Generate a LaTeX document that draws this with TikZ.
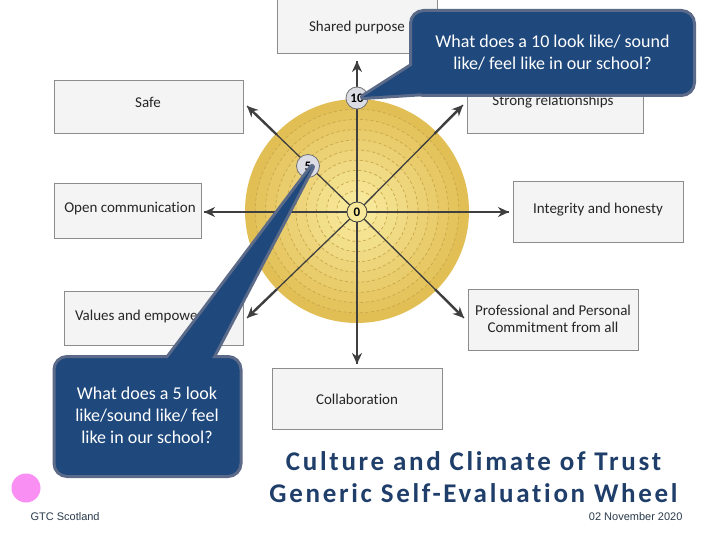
\documentclass[tikz,border=0pt]{standalone}
\usepackage{fontspec}
\setmainfont{Carlito}
\newfontfamily\labelfont[Ligatures={NoCommon}]{Carlito}
\newfontfamily\titlefont[LetterSpace=10,Ligatures={NoCommon}]{Carlito}
\newfontfamily\footfont{Liberation Sans}
\usetikzlibrary{arrows.meta,calc}
\definecolor{boxfill}{HTML}{F4F4F4}
\definecolor{boxline}{HTML}{8C8C8C}
\definecolor{wheelout}{HTML}{E2BF55}
\definecolor{wheelin}{HTML}{F7E89A}
\definecolor{ringdash}{HTML}{C9A74C}
\definecolor{arrowcol}{HTML}{3F3F3F}
\definecolor{markfill}{HTML}{DCDDE4}
\definecolor{callfill}{HTML}{1F497D}
\definecolor{callline}{HTML}{5B6A88}
\definecolor{titleblue}{HTML}{1F3E6A}
\definecolor{footcol}{HTML}{2A3B4C}
\definecolor{pinkdot}{HTML}{F98FF3}
\tikzset{
  labelbox/.style={draw=boxline, fill=boxfill, line width=0.8pt, inner sep=0pt},
  labeltext/.style={font=\labelfont\fontsize{15}{17}\selectfont, text=black!85, align=center, inner sep=0pt},
  thinspoke/.style={draw=arrowcol, line width=1.3pt},
  thickspoke/.style={draw=arrowcol, line width=2.4pt, -{Stealth[length=11pt,width=10pt]}},
  marker/.style={circle, draw=black!55, fill=markfill, line width=0.8pt, inner sep=0pt, font=\labelfont\bfseries\fontsize{13}{13}\selectfont},
  callbox/.style={draw=callline, fill=callfill, line width=3pt, rounded corners=13pt, inner sep=0pt},
  calltext/.style={font=\fontsize{18}{22}\selectfont, text=white, align=center},
  titletext/.style={font=\titlefont\bfseries\fontsize{27}{30}\selectfont, text=titleblue},
  foottext/.style={font=\footfont\fontsize{11}{13}\selectfont, text=footcol}
}
\begin{document}
\begin{tikzpicture}[x=1pt,y=-1pt]
\useasboundingbox (0,0) rectangle (720,540);
\fill[white] (0,0) rectangle (720,540);

% boxes
\node[labelbox, minimum width=160pt, minimum height=56pt] (sp) at (357,25) {};
\node[labeltext] at (357,28) {Shared purpose};
\node[labelbox, minimum width=189pt, minimum height=53pt] (safe) at (148.5,106.5) {};
\node[labeltext] at (148,102) {Safe};
\node[labelbox, minimum width=176pt, minimum height=53pt] (strong) at (555,106.5) {};
\node[labeltext] at (553,102) {Strong relationships};
\node[labelbox, minimum width=147pt, minimum height=55pt] (open) at (127.5,211) {};
\node[labeltext] at (130,209) {Open communication};
\node[labelbox, minimum width=170pt, minimum height=61pt] (integ) at (598.5,211.5) {};
\node[labeltext] at (598,210) {Integrity and honesty};
\node[labelbox, minimum width=179pt, minimum height=54pt] (values) at (153.5,318) {};
\node[labeltext] at (155,316) {Values and empowerment};
\node[labelbox, minimum width=170pt, minimum height=61pt] (prof) at (553,319.5) {};
\node[labeltext] at (553,318.5) {Professional and Personal\\Commitment from all};
\node[labelbox, minimum width=170pt, minimum height=61pt] (collab) at (357,398.5) {};
\node[labeltext] at (357,399) {Collaboration};

% wheel
\foreach \k in {0,...,9}{
  \pgfmathsetmacro{\rr}{112-10.2*\k}
  \pgfmathsetmacro{\mixv}{100-\k*11}
  \fill[wheelout!\mixv!wheelin] (357,211) circle[radius=\rr];
}
\foreach \k in {1,...,9}{
  \pgfmathsetmacro{\rr}{112-10.2*\k}
  \draw[ringdash, line width=0.7pt, dash pattern=on 3pt off 2.5pt] (357,211) circle[radius=\rr];
}

% spokes
\coordinate (cc) at (357,212);
\coordinate (tU) at (357,61);
\coordinate (tD) at (357,364);
\coordinate (tL) at (204,212);
\coordinate (tR) at (509,212);
\coordinate (tNW) at (247,106);
\coordinate (tNE) at (463,105);
\coordinate (tSW) at (247,318);
\coordinate (tSE) at (464,318);
\foreach \t in {tU,tD,tL,tR,tNW,tNE,tSW,tSE}{
  \draw[thinspoke] (cc) -- (\t);
  \draw[thickspoke] ($(cc)!0.73!(\t)$) -- (\t);
}
\node[circle, draw=arrowcol, fill=wheelin, line width=0.8pt, minimum size=20pt, inner sep=0pt, font=\labelfont\bfseries\fontsize{13}{13}\selectfont] (c) at (cc) {0};

% markers
\node[marker, minimum size=22pt] (m10) at (357,98) {10};
\node[marker, minimum size=23pt] (m5) at (308,166) {5};

% callout 1
\path[draw=callline, fill=callline, line width=6pt, line join=round] (421,60) -- (363,97) -- (442,92) -- cycle;
\node[callbox, minimum width=284pt, minimum height=85pt] (q10) at (552.5,53) {};
\fill[callfill] (421,60) -- (363,97) -- (442,92) -- cycle;
\node[calltext] at (552.5,53) {What does a 10 look like/ sound\\like/ feel like in our school?};

% callout 2
\path[draw=callline, fill=callline, line width=6pt, line join=round] (165,362) -- (312,167) -- (210,362) -- cycle;
\node[callbox, minimum width=187pt, minimum height=120pt] (q5) at (147.5,416.5) {};
\fill[callfill] (165,362) -- (312,167) -- (210,362) -- cycle;
\node[calltext] at (147,415) {What does a 5 look\\like/sound like/ feel\\like in our school?};

% title and footer
\node[titletext] (t1) at (473.5,461) {Culture and Climate of Trust};
\node[titletext] (t2) at (473.5,493) {Generic Self-Evaluation Wheel};
\fill[pinkdot] (26,488) circle[radius=14.5];
\node[foottext, anchor=west] (gtc) at (27,517) {GTC Scotland};
\node[foottext, anchor=east] (date) at (686,517) {02 November 2020};
\end{tikzpicture}
\end{document}
